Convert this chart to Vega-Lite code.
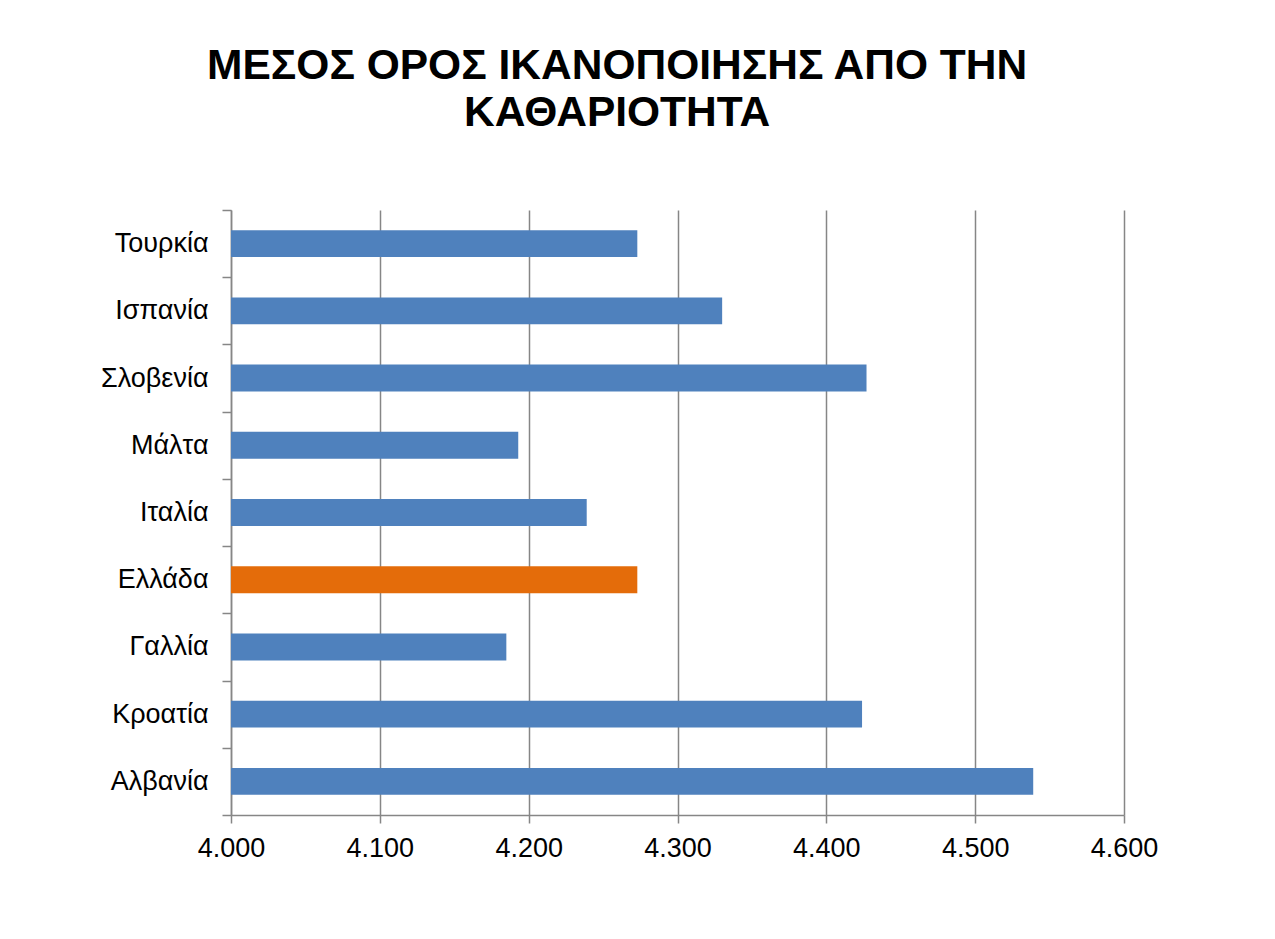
{
  "$schema": "https://vega.github.io/schema/vega-lite/v6.json",
  "width": 893,
  "height": 605,
  "autosize": {"type": "none"},
  "padding": {"left": 231, "top": 210, "right": 151, "bottom": 124},
  "background": "white",
  "title": {
    "text": ["ΜΕΣΟΣ ΟΡΟΣ ΙΚΑΝΟΠΟΙΗΣΗΣ ΑΠΟ ΤΗΝ", "ΚΑΘΑΡΙΟΤΗΤΑ"],
    "font": "Liberation Sans",
    "fontSize": 42.5,
    "fontWeight": "bold",
    "color": "black",
    "lineHeight": 47,
    "anchor": "middle",
    "frame": "bounds",
    "dx": -12,
    "offset": 62
  },
  "data": {
    "values": [
      {"country": "Τουρκία", "value": 4.273},
      {"country": "Ισπανία", "value": 4.330},
      {"country": "Σλοβενία", "value": 4.427},
      {"country": "Μάλτα", "value": 4.193},
      {"country": "Ιταλία", "value": 4.239},
      {"country": "Ελλάδα", "value": 4.273},
      {"country": "Γαλλία", "value": 4.185},
      {"country": "Κροατία", "value": 4.424},
      {"country": "Αλβανία", "value": 4.539}
    ]
  },
  "mark": {"type": "bar", "height": {"band": 0.4}},
  "encoding": {
    "y": {
      "field": "country",
      "type": "nominal",
      "sort": null,
      "scale": {"paddingInner": 0, "paddingOuter": 0},
      "axis": {
        "title": null,
        "tickBand": "extent",
        "grid": false,
        "domainColor": "#868686",
        "domainWidth": 1.5,
        "tickColor": "#868686",
        "tickWidth": 1.5,
        "tickSize": 9,
        "labelFont": "Liberation Sans",
        "labelFontSize": 27,
        "labelColor": "black",
        "labelPadding": 14
      }
    },
    "x": {
      "field": "value",
      "type": "quantitative",
      "scale": {"domain": [4.0, 4.6], "nice": false, "zero": false},
      "axis": {
        "title": null,
        "values": [4.0, 4.1, 4.2, 4.3, 4.4, 4.5, 4.6],
        "format": ".3f",
        "labelFlush": false,
        "grid": true,
        "gridColor": "#868686",
        "gridWidth": 1.5,
        "domainColor": "#868686",
        "domainWidth": 1.5,
        "tickColor": "#868686",
        "tickWidth": 1.5,
        "tickSize": 8,
        "labelFont": "Liberation Sans",
        "labelFontSize": 27,
        "labelColor": "black",
        "labelPadding": 12
      }
    },
    "x2": {"datum": 4.0},
    "color": {
      "condition": {"test": "datum.country === 'Ελλάδα'", "value": "#E46C0A"},
      "value": "#4F81BD"
    }
  },
  "config": {"view": {"stroke": null}}
}
